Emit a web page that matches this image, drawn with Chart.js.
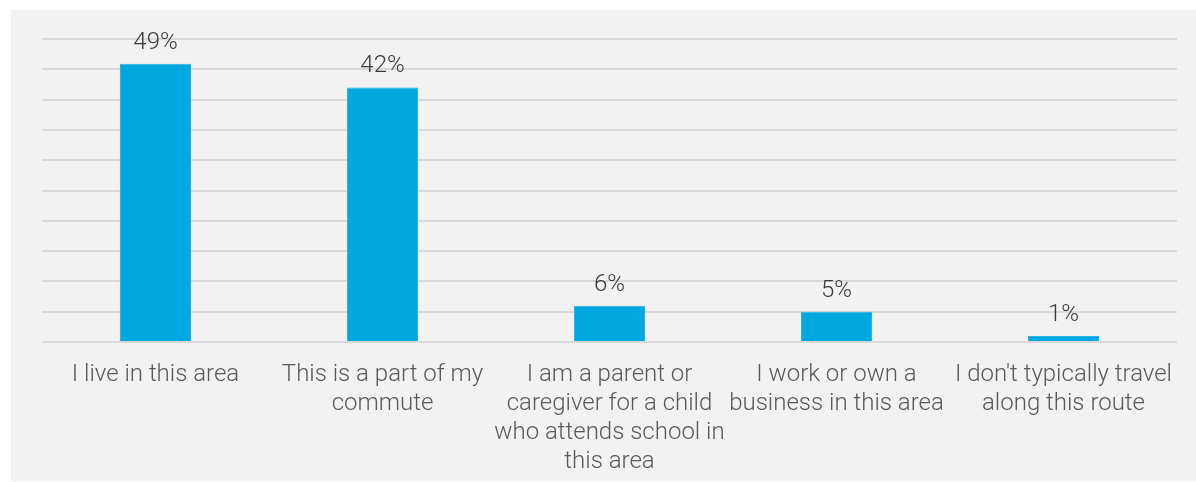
<!DOCTYPE html>
<html>
<head>
<meta charset="utf-8">
<script src="https://cdn.jsdelivr.net/npm/chart.js@4.4.1/dist/chart.umd.min.js"></script>
<style>
    html, body { margin: 0; padding: 0; background: #ffffff; }
    #panel {
        position: absolute;
        left: 11px;
        top: 10px;
        width: 1185px;
        height: 471px;
        background: #f2f2f2;
    }
</style>
</head>
<body>
<div id="panel"><canvas id="reasonsChart"></canvas></div>
<script>
// Categorias (rótulos do eixo X, já quebrados em linhas)
const categories = [
    ['I live in this area'],
    ['This is a part of my', 'commute'],
    ['I am a parent or', 'caregiver for a child', 'who attends school in', 'this area'],
    ['I work or own a', 'business in this area'],
    ["I don't typically travel", 'along this route']
];
// Altura das barras (a primeira barra está desenhada mais baixa que o rótulo)
const barValues = [45.9, 42, 6, 5, 1];
// Texto impresso acima de cada barra
const valueLabels = ['49%', '42%', '6%', '5%', '1%'];
// Eixo Y: 0 a 50, linhas de grade a cada 5
const yMax = 50;
const yStep = 5;

// Plugin simples para escrever os rótulos de valor acima das barras
const valueLabelPlugin = {
    id: 'valueLabels',
    afterDatasetsDraw(chart) {
        const ctx = chart.ctx;
        const meta = chart.getDatasetMeta(0);
        ctx.save();
        ctx.font = '300 24px Roboto';
        ctx.fillStyle = '#3a3a3a';
        ctx.textAlign = 'center';
        ctx.textBaseline = 'bottom';
        meta.data.forEach(function (bar, i) {
            ctx.fillText(valueLabels[i], bar.x, bar.y - 9);
        });
        ctx.restore();
    }
};

const ctx = document.getElementById('reasonsChart').getContext('2d');
new Chart(ctx, {
    type: 'bar',
    data: {
        labels: categories,
        datasets: [{
            data: barValues,
            backgroundColor: '#00a8e2',
            borderColor: '#2bb3e6',
            borderWidth: 1,
            barPercentage: 0.313,
            categoryPercentage: 1
        }]
    },
    options: {
        responsive: true,
        maintainAspectRatio: false,
        animation: false,
        layout: {
            padding: { left: 31, right: 19, top: 29, bottom: 0 }
        },
        plugins: {
            legend: { display: false },
            tooltip: { enabled: false }
        },
        scales: {
            x: {
                grid: { display: false },
                border: { display: false },
                ticks: {
                    color: '#595959',
                    font: { family: 'Roboto', weight: '300', size: 24, lineHeight: 1.21 },
                    padding: 10,
                    maxRotation: 0,
                    autoSkip: false
                },
                afterFit: function (scale) { scale.height = 139; }
            },
            y: {
                min: 0,
                max: yMax,
                border: { display: false },
                grid: { color: '#d9d9d9', lineWidth: 2, drawTicks: false },
                ticks: { display: false, stepSize: yStep },
                afterFit: function (scale) { scale.width = 0; }
            }
        }
    },
    plugins: [valueLabelPlugin]
});
</script>
</body>
</html>
